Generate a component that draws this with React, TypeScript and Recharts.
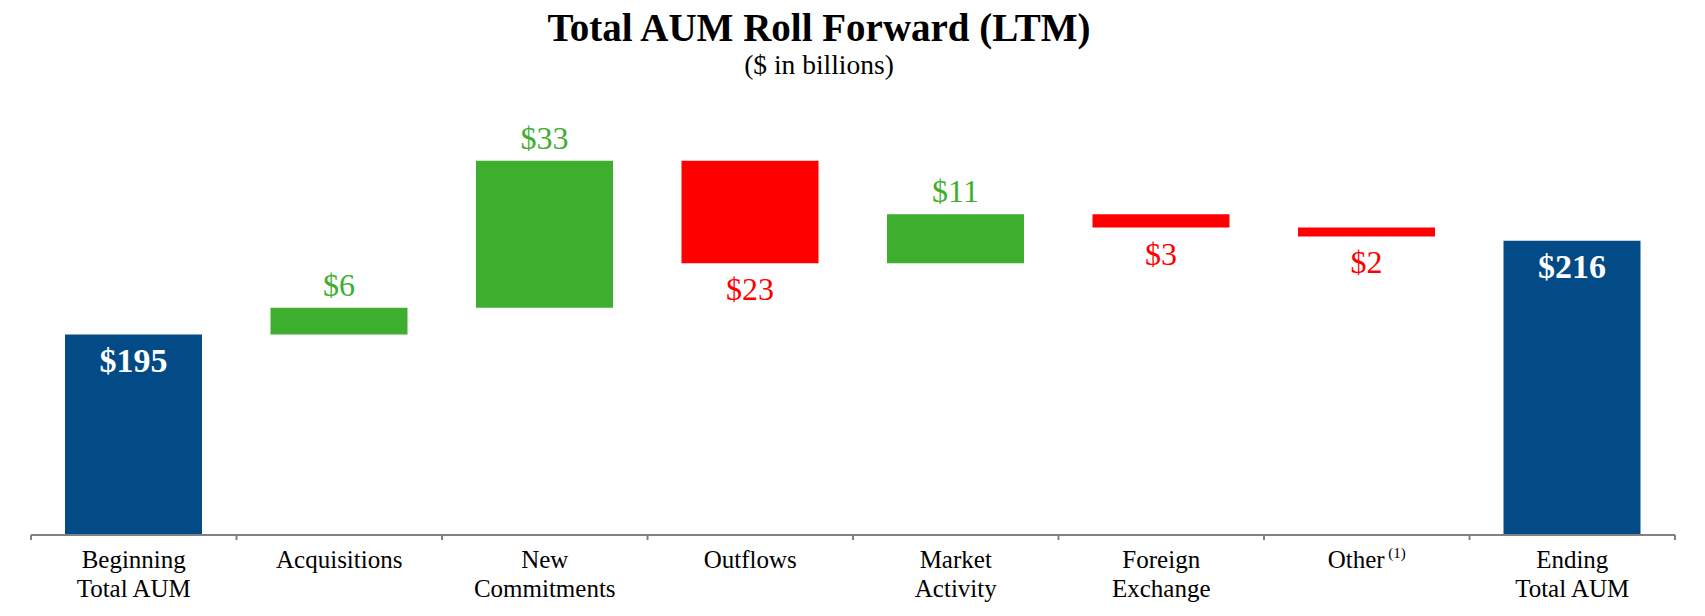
import { BarChart, Bar, XAxis, YAxis, Cell, LabelList } from "recharts"

const categories = [
  ["Beginning", "Total AUM"],
  ["Acquisitions"],
  ["New", "Commitments"],
  ["Outflows"],
  ["Market", "Activity"],
  ["Foreign", "Exchange"],
  ["Other"],
  ["Ending", "Total AUM"],
]
const footnotes = ["", "", "", "", "", "", "(1)", ""]

const beginningAUM = 195
const changes = [6, 33, -23, 11, -3, -2]
const endingAUM = 216

// value axis does not start at zero in the original
const axisFloor = 150
const axisCeiling = 242

const WIDTH = 1705
const HEIGHT = 616
const MARGIN = { top: 125, right: 30, left: 31, bottom: 0 }
const BAND = (WIDTH - MARGIN.left - MARGIN.right) / categories.length

const BLUE = "#024b87"
const GREEN = "#3eae2f"
const RED = "#ff0000"
const AXIS = "#808080"
const FONT = "'Liberation Serif', 'Times New Roman', serif"

type Row = { name: string; range: [number, number]; kind: "total" | "up" | "down"; amount: number }

const rows: Row[] = []
rows.push({ name: categories[0].join(" "), range: [axisFloor, beginningAUM], kind: "total", amount: beginningAUM })
let running = beginningAUM
changes.forEach((c, i) => {
  const next = running + c
  rows.push({
    name: categories[i + 1].join(" "),
    range: [Math.min(running, next), Math.max(running, next)],
    kind: c >= 0 ? "up" : "down",
    amount: Math.abs(c),
  })
  running = next
})
rows.push({ name: categories[categories.length - 1].join(" "), range: [axisFloor, endingAUM], kind: "total", amount: endingAUM })

const colorOf = (kind: Row["kind"]) => (kind === "total" ? BLUE : kind === "up" ? GREEN : RED)

function CategoryTick(props: any) {
  const { x, y, payload } = props
  const i = payload.index
  const lines = categories[i]
  return (
    <g>
      <line x1={x - BAND / 2} x2={x - BAND / 2} y1={y} y2={y + 5} stroke={AXIS} strokeWidth={2} />
      {i === categories.length - 1 && (
        <line x1={x + BAND / 2} x2={x + BAND / 2} y1={y} y2={y + 5} stroke={AXIS} strokeWidth={2} />
      )}
      <text x={x} y={y + 33} textAnchor="middle" fontFamily={FONT} fontSize={25} fill="#000">
        {lines.map((line, j) => (
          <tspan key={j} x={x} dy={j === 0 ? 0 : 29}>
            {line}
            {footnotes[i] && j === lines.length - 1 ? (
              <tspan fontSize={15} dy={-10}>
                {" " + footnotes[i]}
              </tspan>
            ) : null}
          </tspan>
        ))}
      </text>
    </g>
  )
}

function ValueLabel(props: any) {
  const { x, y, width, height, index } = props
  const row = rows[index]
  if (!row) return null
  const cx = Number(x) + Number(width) / 2
  const text = `$${row.amount}`
  if (row.kind === "total") {
    return (
      <text x={cx} y={Number(y) + 26} textAnchor="middle" dominantBaseline="central" fontFamily={FONT} fontSize={34} fontWeight="bold" fill="#fff">
        {text}
      </text>
    )
  }
  const ly = row.kind === "up" ? Number(y) - 23 : Number(y) + Number(height) + 26
  return (
    <text x={cx} y={ly} textAnchor="middle" dominantBaseline="central" fontFamily={FONT} fontSize={32} fill={colorOf(row.kind)}>
      {text}
    </text>
  )
}

export default function App() {
  return (
    <div style={{ position: "absolute", left: 0, top: 0, width: WIDTH, height: HEIGHT, background: "#fff" }}>
      <div
        style={{
          position: "absolute",
          left: 0,
          top: 8,
          width: 1638,
          textAlign: "center",
          fontFamily: FONT,
          fontWeight: "bold",
          fontSize: 39,
          lineHeight: "39px",
          color: "#000",
        }}
      >
        Total AUM Roll Forward (LTM)
      </div>
      <div
        style={{
          position: "absolute",
          left: 0,
          top: 51,
          width: 1638,
          textAlign: "center",
          fontFamily: FONT,
          fontSize: 27.5,
          lineHeight: "27.5px",
          color: "#000",
        }}
      >
        ($ in billions)
      </div>
      <BarChart width={WIDTH} height={HEIGHT} data={rows} margin={MARGIN} barSize={137}>
        <YAxis hide domain={[axisFloor, axisCeiling]} allowDataOverflow />
        <XAxis
          dataKey="name"
          height={81}
          interval={0}
          tickSize={0}
          tickMargin={0}
          tickLine={false}
          axisLine={{ stroke: AXIS, strokeWidth: 2 }}
          tick={<CategoryTick />}
        />
        <Bar dataKey="range" isAnimationActive={false}>
          {rows.map((r, i) => (
            <Cell key={i} fill={colorOf(r.kind)} />
          ))}
          <LabelList dataKey="amount" content={<ValueLabel />} />
        </Bar>
      </BarChart>
    </div>
  )
}
